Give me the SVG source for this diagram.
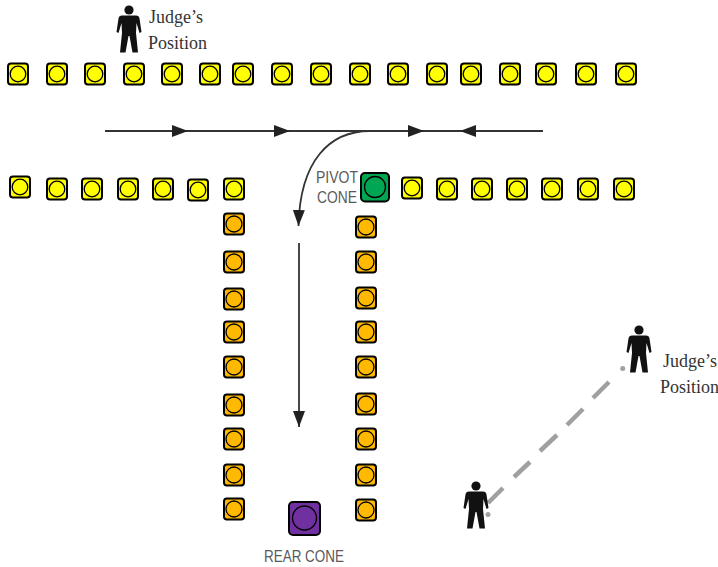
<svg xmlns="http://www.w3.org/2000/svg" width="718" height="567" viewBox="0 0 718 567">
<style>
.c{stroke:#000;stroke-width:2}
.i{fill:none;stroke:#000;stroke-width:1.3}
.y{fill:#ffff00}.o{fill:#ffb900}
.j{font-family:"Liberation Serif",serif;font-size:18px;fill:#333}
.l{font-family:"Liberation Sans",sans-serif;font-size:16px;fill:#5a5a5a}
.ln{fill:none;stroke:#333;stroke-width:1.8}
.d{fill:none;stroke:#a0a0a0;stroke-width:4.5}
</style>
<defs>
<g id="yc"><rect class="c y" x="-10" y="-10.500" width="20" height="21" rx="3"/><circle class="i" cx="0" cy="0" r="7.800"/></g>
<g id="oc"><rect class="c o" x="-10" y="-10.500" width="20" height="21" rx="3"/><circle class="i" cx="0" cy="0" r="8"/></g>
<g id="p"><circle cx="0" cy="5" r="4.600" fill="#111"/><path fill="#111" d="M-7,10.500 L7,10.500 Q10,10.500 10.500,13.500 L12.500,27 L10.500,28 L7.500,18 L7,28 L9,47.500 L3.500,47.500 L0.500,31 L-0.500,31 L-3.500,47.500 L-9,47.500 L-7,28 L-7.500,18 L-10.500,28 L-12.500,27 L-10.500,13.500 Q-10,10.500 -7,10.500 Z"/></g>
<marker id="a" markerUnits="userSpaceOnUse" markerWidth="17" markerHeight="14" refX="16" refY="6" orient="auto"><path d="M0,0 L16,6 L0,12 Z" fill="#222"/></marker>
</defs>
<g id="connectors">
<path class="ln" d="M105,131 H188" marker-end="url(#a)"/>
<path class="ln" d="M188,131 H290" marker-end="url(#a)"/>
<path class="ln" d="M290,131 H424" marker-end="url(#a)"/>
<path class="ln" d="M424,131 H460"/>
<path class="ln" d="M543,131 H460" marker-end="url(#a)"/>
<path class="ln" d="M370,131 C330,131 300,160 298.500,226" marker-end="url(#a)"/>
<path class="ln" d="M299,243 V427" marker-end="url(#a)"/>
<g id="sightline">
<path class="d" d="M488,503 L503,488 M514,477 L530,462 M540,451 L557,435 M567,425 L583,409 M593,398 L609,382"/>
<circle cx="622.700" cy="368.500" r="2.500" fill="#a0a0a0"/>
<circle cx="488" cy="514.500" r="2.500" fill="#a0a0a0"/>
</g>
</g>
<g id="top-row">
<use href="#yc" x="18" y="74"/><use href="#yc" x="57" y="74"/><use href="#yc" x="95" y="74"/><use href="#yc" x="134" y="74"/><use href="#yc" x="172" y="74"/><use href="#yc" x="210" y="74"/><use href="#yc" x="243" y="74"/><use href="#yc" x="282" y="74"/><use href="#yc" x="321" y="74"/><use href="#yc" x="360" y="74"/><use href="#yc" x="398" y="74"/><use href="#yc" x="437" y="74"/><use href="#yc" x="471" y="74"/><use href="#yc" x="510" y="74"/><use href="#yc" x="546" y="74"/><use href="#yc" x="586" y="74"/><use href="#yc" x="626" y="74"/>
</g>
<g id="middle-left-row">
<use href="#yc" x="20" y="187"/><use href="#yc" x="57" y="189"/><use href="#yc" x="92" y="189"/><use href="#yc" x="128" y="189"/><use href="#yc" x="163" y="189"/><use href="#yc" x="198" y="190"/><use href="#yc" x="234" y="189"/>
</g>
<g id="middle-right-row">
<use href="#yc" x="412" y="188"/><use href="#yc" x="447" y="189"/><use href="#yc" x="482" y="189"/><use href="#yc" x="517" y="189"/><use href="#yc" x="552" y="189"/><use href="#yc" x="588" y="189"/><use href="#yc" x="624" y="189"/>
</g>
<g id="lane-left">
<use href="#oc" x="234" y="224"/><use href="#oc" x="234" y="262"/><use href="#oc" x="234" y="299"/><use href="#oc" x="234" y="332"/><use href="#oc" x="234" y="367"/><use href="#oc" x="234" y="405"/><use href="#oc" x="234" y="439"/><use href="#oc" x="234" y="475"/><use href="#oc" x="234" y="509"/>
</g>
<g id="lane-right">
<use href="#oc" x="366" y="227"/><use href="#oc" x="366" y="262"/><use href="#oc" x="366" y="298"/><use href="#oc" x="366" y="332"/><use href="#oc" x="366" y="367"/><use href="#oc" x="366" y="404"/><use href="#oc" x="366" y="439"/><use href="#oc" x="366" y="475"/><use href="#oc" x="366" y="510"/>
</g>
<g id="pivot-cone">
<rect class="c" x="361" y="173" width="28" height="28.500" rx="4" fill="#00a651"/>
<circle class="i" cx="375" cy="187" r="10.500"/>
<text class="l" x="316" y="183" textLength="42" lengthAdjust="spacingAndGlyphs">PIVOT</text>
<text class="l" x="317" y="203" textLength="40" lengthAdjust="spacingAndGlyphs">CONE</text>
</g>
<g id="rear-cone">
<rect class="c" x="289" y="502" width="31" height="33" rx="4" fill="#7030a0"/>
<circle class="i" cx="304.500" cy="518" r="12"/>
<text class="l" x="264" y="562" textLength="80" lengthAdjust="spacingAndGlyphs">REAR CONE</text>
</g>
<g id="judge-top">
<use href="#p" x="129" y="5"/>
<text class="j" x="149" y="23">Judge’s</text>
<text class="j" x="148" y="49">Position</text>
</g>
<g id="judge-right">
<use href="#p" x="639" y="325"/>
<text class="j" x="663" y="367">Judge’s</text>
<text class="j" x="660" y="393">Position</text>
</g>
<g id="judge-bottom">
<use href="#p" x="476" y="481"/>
</g>
</svg>
